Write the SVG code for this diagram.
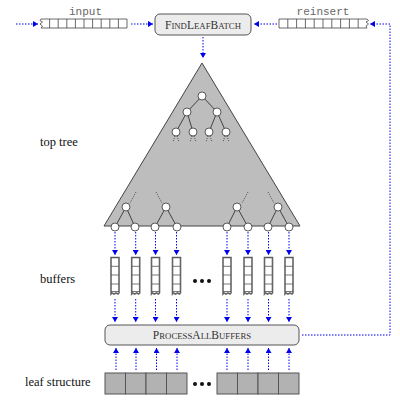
<svg xmlns="http://www.w3.org/2000/svg" width="400" height="407" viewBox="0 0 400 407">
<defs>
<marker id="ah" markerUnits="userSpaceOnUse" markerWidth="6" markerHeight="6" refX="5" refY="3" orient="auto">
<path d="M0,0 L5,3 L0,6 Z" fill="#0000ee"/>
</marker>
<style>
.arr{stroke:#0000ee;stroke-width:1;stroke-dasharray:1.5 1.5;fill:none;marker-end:url(#ah)}
.lbl{font-family:"Liberation Serif","Times New Roman",serif;font-size:12.5px;fill:#111}
.mono{font-family:"Liberation Mono",monospace;font-size:11px;fill:#666}
.sc{font-family:"Liberation Serif","Times New Roman",serif;font-size:11.5px;fill:#333;text-anchor:middle}
.sm{font-size:8.75px}
.box{fill:#ececec;stroke:#555;stroke-width:1}
.cell{fill:#fff;stroke:#444;stroke-width:0.8}
.node{fill:#fff;stroke:#333;stroke-width:0.8}
.edge{stroke:#222;stroke-width:0.8;fill:none}
.tick{stroke:#333;stroke-width:0.8;stroke-dasharray:1 1.2;fill:none}
.leaf{fill:#b2b2b2;stroke:#555;stroke-width:1}
.buf{fill:#fff;stroke:#666;stroke-width:1.6}
.bufl{stroke:#555;stroke-width:0.8;fill:none}
</style>
</defs>
<rect width="400" height="407" fill="#fff"/>

<!-- labels -->
<g id="labels">
<text class="lbl" x="40" y="146">top tree</text>
<text class="lbl" x="40" y="283">buffers</text>
<text class="lbl" x="25" y="386">leaf structure</text>
</g>

<!-- input array -->
<g id="input">
<text class="mono" x="85.5" y="15" text-anchor="middle">input</text>
<path class="cell" d="M41,19 H127 V28 H41 L42.5,26 L40,24 L42.5,22 L40,20.5 Z"/>
<path class="cell" d="M49.6,19V28M58.2,19V28M66.8,19V28M75.4,19V28M84,19V28M92.6,19V28M101.2,19V28M109.8,19V28M118.4,19V28"/>
</g>

<!-- reinsert array -->
<g id="reinsert">
<text class="mono" x="323" y="15" text-anchor="middle">reinsert</text>
<path class="cell" d="M279,19 H367 L368.5,20.5 L366,22 L368.5,24 L366,26 L367,28 H279 Z"/>
<path class="cell" d="M287.8,19V28M296.6,19V28M305.4,19V28M314.2,19V28M323,19V28M331.8,19V28M340.6,19V28M349.4,19V28M358.2,19V28"/>
</g>

<!-- FindLeafBatch -->
<g id="findleafbatch">
<rect class="box" x="155" y="14" width="96" height="21" rx="5"/>
<text class="sc" x="203" y="28.5">F<tspan class="sm">IND</tspan>L<tspan class="sm">EAF</tspan>B<tspan class="sm">ATCH</tspan></text>
</g>

<!-- top tree -->
<g id="toptree">
<polygon points="202,63 104,226 300,226" fill="#bdbdbd" stroke="#444" stroke-width="1"/>
<path class="edge" d="M202,96 L187,112 M202,96 L217,112 M187,112 L176,132 M187,112 L193,132 M217,112 L209,132 M217,112 L226,132"/>
<path class="tick" d="M175,136 L173,142 M177,136 L179,142 M192,136 L190,142 M194,136 L196,142 M208,136 L206,142 M210,136 L212,142 M225,136 L223,142 M227,136 L229,142"/>
<circle class="node" cx="202" cy="96" r="4"/>
<circle class="node" cx="187" cy="112" r="4"/>
<circle class="node" cx="217" cy="112" r="4"/>
<circle class="node" cx="176" cy="132" r="4"/>
<circle class="node" cx="193" cy="132" r="4"/>
<circle class="node" cx="209" cy="132" r="4"/>
<circle class="node" cx="226" cy="132" r="4"/>
<path class="tick" d="M136,192 L130,203 M156,192 L162,203 M248,192 L242,203 M268,192 L274,203"/>
<path class="edge" d="M126,207 L115,227 M126,207 L135,227 M166,207 L155,227 M166,207 L177,227 M237,207 L227,227 M237,207 L248,227 M278,207 L268,227 M278,207 L289,227"/>
<circle class="node" cx="126" cy="207" r="4"/>
<circle class="node" cx="166" cy="207" r="4"/>
<circle class="node" cx="237" cy="207" r="4"/>
<circle class="node" cx="278" cy="207" r="4"/>
<circle class="node" cx="115" cy="227" r="4"/>
<circle class="node" cx="135" cy="227" r="4"/>
<circle class="node" cx="155" cy="227" r="4"/>
<circle class="node" cx="177" cy="227" r="4"/>
<circle class="node" cx="227" cy="227" r="4"/>
<circle class="node" cx="248" cy="227" r="4"/>
<circle class="node" cx="268" cy="227" r="4"/>
<circle class="node" cx="289" cy="227" r="4"/>
</g>

<!-- buffers -->
<g id="buffers">
<g id="buf1" transform="translate(115,0)">
<path class="buf" d="M-4,257.5 H4 V293 L3,294 L1,293 L-1,294 L-3,293 L-4,294 Z"/>
<path class="bufl" d="M-4,257.5H4M-4,266.3H4M-4,275H4M-4,284H4M-4,291.5H4"/>
</g>
<g id="buf2" transform="translate(135.7,0)">
<path class="buf" d="M-4,257.5 H4 V293 L3,294 L1,293 L-1,294 L-3,293 L-4,294 Z"/>
<path class="bufl" d="M-4,257.5H4M-4,266.3H4M-4,275H4M-4,284H4M-4,291.5H4"/>
</g>
<g id="buf3" transform="translate(155.5,0)">
<path class="buf" d="M-4,257.5 H4 V293 L3,294 L1,293 L-1,294 L-3,293 L-4,294 Z"/>
<path class="bufl" d="M-4,257.5H4M-4,266.3H4M-4,275H4M-4,284H4M-4,291.5H4"/>
</g>
<g id="buf4" transform="translate(176.5,0)">
<path class="buf" d="M-4,257.5 H4 V293 L3,294 L1,293 L-1,294 L-3,293 L-4,294 Z"/>
<path class="bufl" d="M-4,257.5H4M-4,266.3H4M-4,275H4M-4,284H4M-4,291.5H4"/>
</g>
<g id="buf5" transform="translate(227,0)">
<path class="buf" d="M-4,257.5 H4 V293 L3,294 L1,293 L-1,294 L-3,293 L-4,294 Z"/>
<path class="bufl" d="M-4,257.5H4M-4,266.3H4M-4,275H4M-4,284H4M-4,291.5H4"/>
</g>
<g id="buf6" transform="translate(248,0)">
<path class="buf" d="M-4,257.5 H4 V293 L3,294 L1,293 L-1,294 L-3,293 L-4,294 Z"/>
<path class="bufl" d="M-4,257.5H4M-4,266.3H4M-4,275H4M-4,284H4M-4,291.5H4"/>
</g>
<g id="buf7" transform="translate(268.5,0)">
<path class="buf" d="M-4,257.5 H4 V293 L3,294 L1,293 L-1,294 L-3,293 L-4,294 Z"/>
<path class="bufl" d="M-4,257.5H4M-4,266.3H4M-4,275H4M-4,284H4M-4,291.5H4"/>
</g>
<g id="buf8" transform="translate(289,0)">
<path class="buf" d="M-4,257.5 H4 V293 L3,294 L1,293 L-1,294 L-3,293 L-4,294 Z"/>
<path class="bufl" d="M-4,257.5H4M-4,266.3H4M-4,275H4M-4,284H4M-4,291.5H4"/>
</g>
<circle cx="195" cy="281" r="2" fill="#111"/>
<circle cx="202" cy="281" r="2" fill="#111"/>
<circle cx="209" cy="281" r="2" fill="#111"/>
</g>

<!-- ProcessAllBuffers -->
<g id="processallbuffers">
<rect class="box" x="105" y="325" width="194" height="20" rx="5"/>
<text class="sc" x="202" y="339">P<tspan class="sm">ROCESS</tspan>A<tspan class="sm">LL</tspan>B<tspan class="sm">UFFERS</tspan></text>
</g>

<!-- leaf structure -->
<g id="leafstructure">
<rect class="leaf" x="105" y="373" width="20.5" height="21"/>
<rect class="leaf" x="125.5" y="373" width="20.5" height="21"/>
<rect class="leaf" x="146" y="373" width="20.5" height="21"/>
<rect class="leaf" x="166.5" y="373" width="20.5" height="21"/>
<rect class="leaf" x="217" y="373" width="20.5" height="21"/>
<rect class="leaf" x="237.5" y="373" width="20.5" height="21"/>
<rect class="leaf" x="258" y="373" width="20.5" height="21"/>
<rect class="leaf" x="278.5" y="373" width="20.5" height="21"/>
<circle cx="195" cy="384" r="2" fill="#111"/>
<circle cx="202" cy="384" r="2" fill="#111"/>
<circle cx="209" cy="384" r="2" fill="#111"/>
</g>

<!-- connectors -->
<g id="connectors">
<path class="arr" d="M16,24 H38"/>
<path class="arr" d="M131,24 H153"/>
<path class="arr" d="M277,24 H254"/>
<path class="arr" d="M302,335 H390 V24 H370"/>
<path class="arr" d="M203,37 V58"/>
<path class="arr" d="M115,232 V255"/>
<path class="arr" d="M135.7,232 V255"/>
<path class="arr" d="M155.5,232 V255"/>
<path class="arr" d="M176.5,232 V255"/>
<path class="arr" d="M227,232 V255"/>
<path class="arr" d="M248,232 V255"/>
<path class="arr" d="M268.5,232 V255"/>
<path class="arr" d="M289,232 V255"/>
<path class="arr" d="M115,299 V322"/>
<path class="arr" d="M135.7,299 V322"/>
<path class="arr" d="M155.5,299 V322"/>
<path class="arr" d="M176.5,299 V322"/>
<path class="arr" d="M227,299 V322"/>
<path class="arr" d="M248,299 V322"/>
<path class="arr" d="M268.5,299 V322"/>
<path class="arr" d="M289,299 V322"/>
<path class="arr" d="M116,370 V348"/>
<path class="arr" d="M136,370 V348"/>
<path class="arr" d="M156.5,370 V348"/>
<path class="arr" d="M177,370 V348"/>
<path class="arr" d="M227,370 V348"/>
<path class="arr" d="M248,370 V348"/>
<path class="arr" d="M268.5,370 V348"/>
<path class="arr" d="M289,370 V348"/>
</g>
</svg>
